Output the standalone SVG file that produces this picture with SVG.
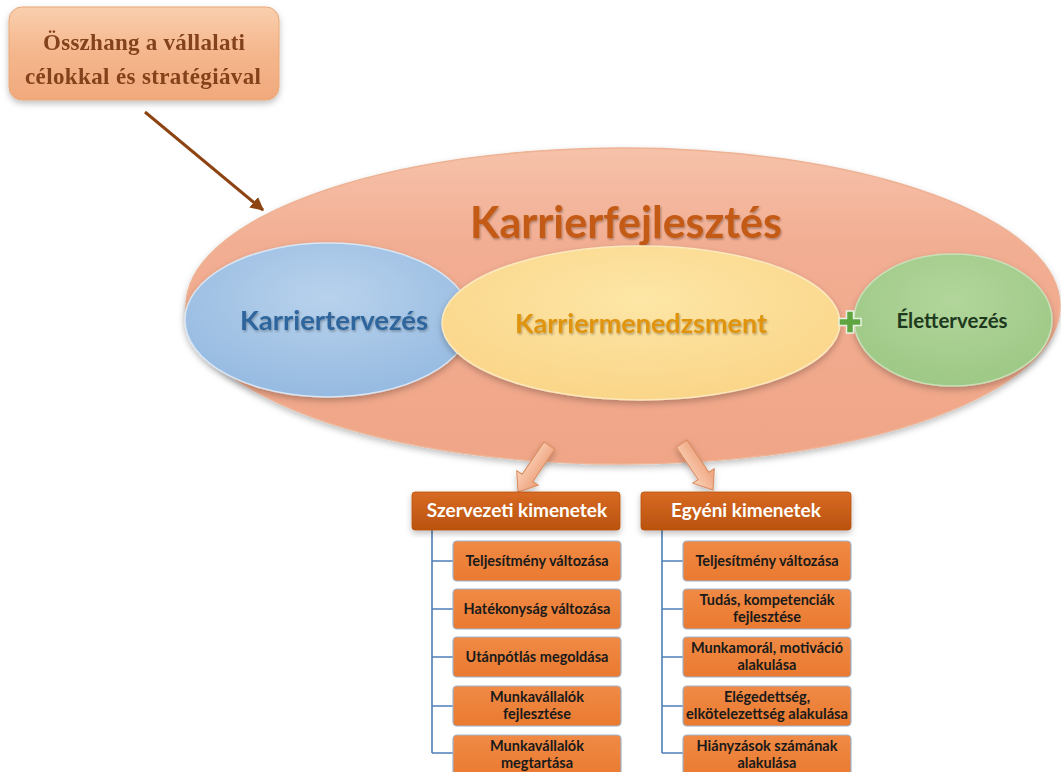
<svg xmlns="http://www.w3.org/2000/svg" width="1061" height="772" viewBox="0 0 1061 772">
  <style>
    .cal { font-family: Lato, "Open Sans", "Liberation Sans", sans-serif; font-weight: bold; }
    .head { fill: #ffffff; font-size: 19px; }
    .item { fill: #1a1a1a; font-size: 14.5px; }
    .tree { stroke: #4f7fb6; stroke-width: 1.6; fill: none; }
    .sub { fill: url(#gSub); stroke: #9fb4cc; stroke-width: 1.2; }
    .hdr { fill: url(#gHead); stroke: #b85210; stroke-width: 0.8; }
    .blk { fill: url(#gBlk); stroke: #d98a5c; stroke-width: 1; }
  </style>
  <defs>
    <linearGradient id="gTop" x1="0" y1="0" x2="0" y2="1">
      <stop offset="0" stop-color="#f9cfae"/>
      <stop offset="0.5" stop-color="#f5b68c"/>
      <stop offset="1" stop-color="#f0a97c"/>
    </linearGradient>
    <linearGradient id="gBig" x1="0" y1="0" x2="0" y2="1">
      <stop offset="0" stop-color="#f6c2aa"/>
      <stop offset="0.3" stop-color="#f2ae93"/>
      <stop offset="1" stop-color="#f0a587"/>
    </linearGradient>
    <radialGradient id="gBlue" cx="0.5" cy="0.35" r="0.7">
      <stop offset="0" stop-color="#b8d2ec"/>
      <stop offset="1" stop-color="#93b8e0"/>
    </radialGradient>
    <radialGradient id="gYel" cx="0.5" cy="0.35" r="0.7">
      <stop offset="0" stop-color="#fde6a6"/>
      <stop offset="1" stop-color="#fad486"/>
    </radialGradient>
    <radialGradient id="gGrn" cx="0.5" cy="0.35" r="0.7">
      <stop offset="0" stop-color="#b2d69b"/>
      <stop offset="1" stop-color="#9cc784"/>
    </radialGradient>
    <linearGradient id="gHead" x1="0" y1="0" x2="0" y2="1">
      <stop offset="0" stop-color="#d86a22"/>
      <stop offset="1" stop-color="#b9520f"/>
    </linearGradient>
    <linearGradient id="gSub" x1="0" y1="0" x2="0" y2="1">
      <stop offset="0" stop-color="#f08a45"/>
      <stop offset="1" stop-color="#ea7a30"/>
    </linearGradient>
    <linearGradient id="gBlk" x1="0" y1="0" x2="0" y2="1">
      <stop offset="0" stop-color="#f9d2b8"/>
      <stop offset="0.5" stop-color="#f4b898"/>
      <stop offset="1" stop-color="#e99e78"/>
    </linearGradient>
    <filter id="shadow" x="-10%" y="-10%" width="120%" height="130%">
      <feDropShadow dx="0" dy="3" stdDeviation="3" flood-color="#000" flood-opacity="0.25"/>
    </filter>
    <filter id="tshadow" x="-5%" y="-20%" width="110%" height="150%">
      <feDropShadow dx="1" dy="1.5" stdDeviation="1" flood-color="#000" flood-opacity="0.3"/>
    </filter>
    <marker id="arrowBrown" viewBox="0 0 10 10" refX="9" refY="5" markerWidth="4.5" markerHeight="4.5" orient="auto">
      <path d="M0,0 L10,5 L0,10 z" fill="#8e4412"/>
    </marker>
    <!-- block arrow, tip at origin, body along +x -->
    <path id="blockArrow" d="M0,0 L17,-13 L17,-6.5 L56,-6.5 L56,6.5 L17,6.5 L17,13 Z"/>
  </defs>

  <!-- Strategy alignment box -->
  <g id="node-osszhang" filter="url(#shadow)">
    <rect x="9" y="7" width="270" height="93" rx="13" fill="url(#gTop)" stroke="#e9a878" stroke-width="1"/>
    <text x="144" y="50" text-anchor="middle" font-family="'Liberation Serif', serif" font-weight="bold" font-size="23" fill="#84421a" textLength="202" lengthAdjust="spacing">Összhang a vállalati</text>
    <text x="143" y="84" text-anchor="middle" font-family="'Liberation Serif', serif" font-weight="bold" font-size="23" fill="#84421a" textLength="236" lengthAdjust="spacing">célokkal és stratégiával</text>
  </g>

  <!-- Career development ellipse -->
  <g id="node-karrierfejlesztes">
    <ellipse cx="623" cy="306" rx="437" ry="158" fill="url(#gBig)" stroke="#eeb294" stroke-width="1.5" filter="url(#shadow)"/>
    <text x="626" y="238" text-anchor="middle" class="cal" font-size="43" fill="#c35a14" filter="url(#tshadow)">Karrierfejlesztés</text>
  </g>

  <g id="node-karriertervezes">
    <ellipse cx="328" cy="320" rx="143" ry="77" fill="url(#gBlue)" stroke="#d8e6f4" stroke-width="1.5" filter="url(#shadow)"/>
    <text x="334" y="330" text-anchor="middle" class="cal" font-size="27.5" fill="#2e659c" filter="url(#tshadow)">Karriertervezés</text>
  </g>

  <g id="node-karriermenedzsment">
    <ellipse cx="641" cy="323" rx="199" ry="77" fill="url(#gYel)" stroke="#fbe9bd" stroke-width="1.5" filter="url(#shadow)"/>
    <text x="641" y="333" text-anchor="middle" class="cal" font-size="27" fill="#e0930e" filter="url(#tshadow)">Karriermenedzsment</text>
  </g>

  <g id="node-elettervezes">
    <ellipse cx="953" cy="320" rx="99" ry="66" fill="url(#gGrn)" stroke="#c8e0b8" stroke-width="1.5" filter="url(#shadow)"/>
    <text x="952" y="328" text-anchor="middle" class="cal" font-size="20.5" fill="#1e3a1e">Élettervezés</text>
  </g>

  <g id="node-plus">
    <path d="M846.5,311 h7 v7.5 h7.5 v7 h-7.5 v7.5 h-7 v-7.5 h-7.5 v-7 h7.5 z" fill="#5ea441" stroke="#e9f2e2" stroke-width="1.5"/>
  </g>

  <!-- Connectors -->
  <g id="connectors">
    <line x1="145" y1="112" x2="263" y2="210" stroke="#8e4412" stroke-width="3" marker-end="url(#arrowBrown)"/>
    <!-- block arrows to the outcome groups -->
    <g filter="url(#shadow)">
      <use href="#blockArrow" class="blk" transform="translate(518,492) rotate(-56)"/>
      <use href="#blockArrow" class="blk" transform="translate(713,490) rotate(-124)"/>
    </g>
    <!-- tree lines -->
    <path class="tree" d="M432,530 V753 M432,561 H453 M432,609 H453 M432,657 H453 M432,706 H453 M432,753 H453"/>
    <path class="tree" d="M662,530 V753 M662,561 H683 M662,609 H683 M662,657 H683 M662,706 H683 M662,753 H683"/>
  </g>

  <!-- Organisational outcomes -->
  <g id="node-szervezeti">
    <rect class="hdr" x="412" y="492" width="208" height="38" rx="3" filter="url(#shadow)"/>
    <text class="cal head" x="517" y="517" text-anchor="middle">Szervezeti kimenetek</text>
  </g>
  <g id="node-sz1">
    <rect class="sub" x="453" y="541" width="168" height="40" rx="4"/>
    <text class="cal item" x="537" y="566" text-anchor="middle">Teljesítmény változása</text>
  </g>
  <g id="node-sz2">
    <rect class="sub" x="453" y="589" width="168" height="40" rx="4"/>
    <text class="cal item" x="537" y="614" text-anchor="middle">Hatékonyság változása</text>
  </g>
  <g id="node-sz3">
    <rect class="sub" x="453" y="637" width="168" height="40" rx="4"/>
    <text class="cal item" x="537" y="662" text-anchor="middle">Utánpótlás megoldása</text>
  </g>
  <g id="node-sz4">
    <rect class="sub" x="453" y="686" width="168" height="40" rx="4"/>
    <text class="cal item" x="537" y="702" text-anchor="middle">Munkavállalók</text>
    <text class="cal item" x="537" y="719" text-anchor="middle">fejlesztése</text>
  </g>
  <g id="node-sz5">
    <rect class="sub" x="453" y="735" width="168" height="42" rx="4"/>
    <text class="cal item" x="537" y="751" text-anchor="middle">Munkavállalók</text>
    <text class="cal item" x="537" y="768" text-anchor="middle">megtartása</text>
  </g>

  <!-- Individual outcomes -->
  <g id="node-egyeni">
    <rect class="hdr" x="641" y="492" width="210" height="38" rx="3" filter="url(#shadow)"/>
    <text class="cal head" x="746" y="517" text-anchor="middle">Egyéni kimenetek</text>
  </g>
  <g id="node-eg1">
    <rect class="sub" x="683" y="541" width="168" height="40" rx="4"/>
    <text class="cal item" x="767" y="566" text-anchor="middle">Teljesítmény változása</text>
  </g>
  <g id="node-eg2">
    <rect class="sub" x="683" y="589" width="168" height="40" rx="4"/>
    <text class="cal item" x="767" y="605" text-anchor="middle">Tudás, kompetenciák</text>
    <text class="cal item" x="767" y="622" text-anchor="middle">fejlesztése</text>
  </g>
  <g id="node-eg3">
    <rect class="sub" x="683" y="637" width="168" height="40" rx="4"/>
    <text class="cal item" x="767" y="653" text-anchor="middle">Munkamorál, motiváció</text>
    <text class="cal item" x="767" y="670" text-anchor="middle">alakulása</text>
  </g>
  <g id="node-eg4">
    <rect class="sub" x="683" y="686" width="168" height="40" rx="4"/>
    <text class="cal item" x="767" y="702" text-anchor="middle">Elégedettség,</text>
    <text class="cal item" x="767" y="719" text-anchor="middle" textLength="162" lengthAdjust="spacingAndGlyphs">elkötelezettség alakulása</text>
  </g>
  <g id="node-eg5">
    <rect class="sub" x="683" y="735" width="168" height="42" rx="4"/>
    <text class="cal item" x="767" y="751" text-anchor="middle">Hiányzások számának</text>
    <text class="cal item" x="767" y="768" text-anchor="middle">alakulása</text>
  </g>
</svg>
